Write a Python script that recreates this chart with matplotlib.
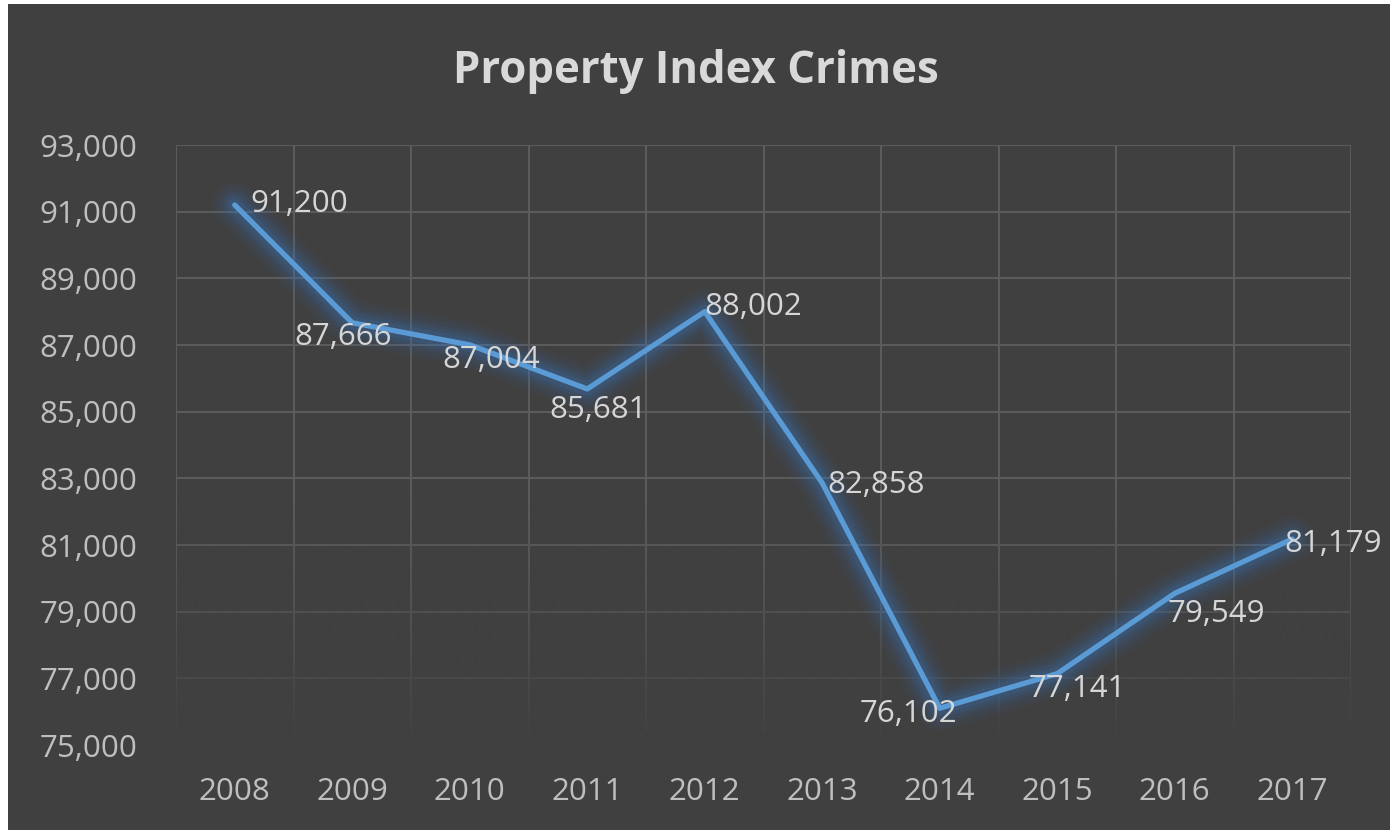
import matplotlib
matplotlib.use("Agg")
import matplotlib.pyplot as plt
import numpy as np
from matplotlib.patches import Rectangle

years = ["2008", "2009", "2010", "2011", "2012", "2013", "2014", "2015", "2016", "2017"]
crimes = [91200, 87666, 87004, 85681, 88002, 82858, 76102, 77141, 79549, 81179]
y_ticks = [75000, 77000, 79000, 81000, 83000, 85000, 87000, 89000, 91000, 93000]
title = "Property Index Crimes"

# label offsets in pixels (dx to text centre, dy to baseline; positive = up)
label_offsets = [(65, -7), (-9, -22), (21, -23), (11, -29), (49, -3),
                 (54, -10), (-31, -14), (20, -23), (42, -29), (41, -13)]

W, H = 1398, 830
fig = plt.figure(figsize=(W / 100, H / 100), dpi=100, facecolor="white")
BG = "#404040"
fig.patches.append(Rectangle((8 / W, 0), (1390 - 8) / W, (H - 4) / H, transform=fig.transFigure,
                             facecolor=BG, edgecolor="none", zorder=-10))

plot_l, plot_r, plot_t, plot_b = 176, 1351, 145, 745
ax = fig.add_axes([plot_l / W, 1 - plot_b / H, (plot_r - plot_l) / W, (plot_b - plot_t) / H])
ax.set_facecolor("none")
x = np.arange(len(years))

grid_c = "#5c5c5c"
for yt in y_ticks[1:]:
    ax.axhline(yt, color=grid_c, lw=1.4, zorder=1)
for xb in np.arange(-0.5, len(years), 1.0):
    ax.axvline(xb, color=grid_c, lw=1.4, zorder=1)

# fade of the grid towards the bottom
grad = np.zeros((100, 1, 4))
grad[..., :3] = matplotlib.colors.to_rgb(BG)
grad[:, 0, 3] = np.linspace(0.0, 1.0, 100) ** 1.4
ax.imshow(grad, extent=[-0.5, len(years) - 0.5, 75000, 83000], aspect="auto",
          zorder=2, interpolation="bilinear", origin="upper")
ax.set_xlim(-0.5, len(years) - 0.5)
ax.set_ylim(75000, 93000)

for s in ax.spines.values():
    s.set_visible(False)

# glow
for lw, a in [(32, 0.05), (26, 0.07), (20, 0.09), (15, 0.12), (10, 0.16)]:
    ax.plot(x, crimes, color="#3a78c0", lw=lw, alpha=a, solid_capstyle="round",
            solid_joinstyle="round", zorder=3)
ax.plot(x, crimes, color="#5b9bd5", lw=3.8, solid_capstyle="round", solid_joinstyle="round", zorder=4)

for xi, v, (dx, dy) in zip(x, crimes, label_offsets):
    ax.annotate(f"{v:,}", (xi, v), xytext=(dx, dy), textcoords="offset pixels",
                ha="center", va="baseline", color="#d6d6d6", fontsize=22.5,
                family="Open Sans", zorder=5)

ax.set_xticks(x)
ax.set_xticklabels(years)
ax.set_yticks(y_ticks)
ax.set_yticklabels([f"{v:,}" for v in y_ticks])
ax.tick_params(length=0, colors="#bfbfbf", labelsize=22.5)
ax.tick_params(axis="y", pad=28)
ax.tick_params(axis="x", pad=23)
for lab in ax.get_xticklabels() + ax.get_yticklabels():
    lab.set_family("Open Sans")
    lab.set_color("#bfbfbf")

fig.text(696 / W, 1 - 83 / H, title, ha="center", va="baseline", color="#d9d9d9",
         fontsize=31.5, fontweight="bold", family="Open Sans")

fig.savefig("out.png", dpi=100, facecolor=fig.get_facecolor())
